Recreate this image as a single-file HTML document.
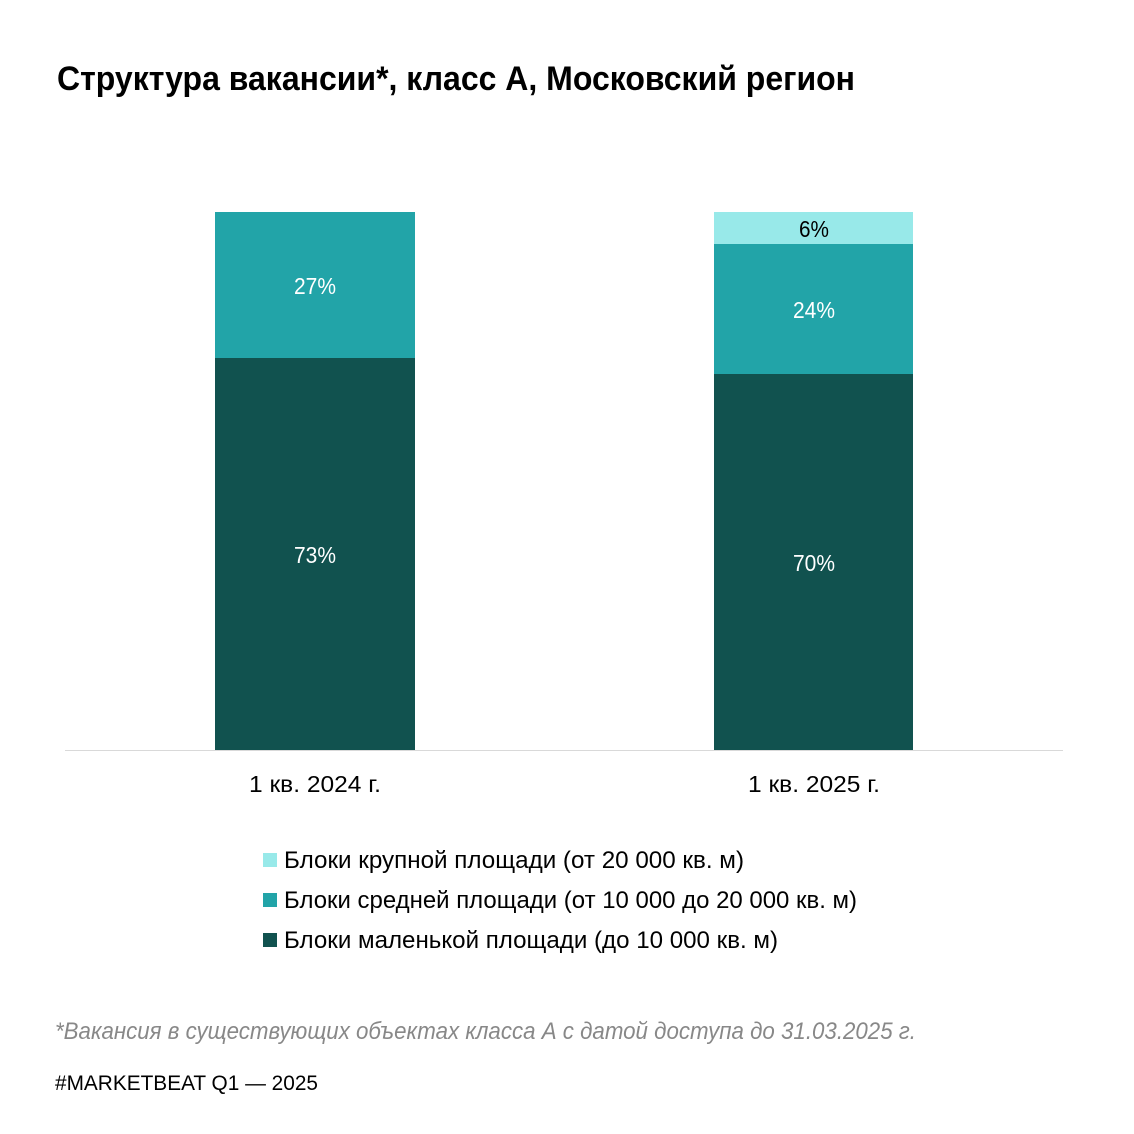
<!DOCTYPE html>
<html><head><meta charset="utf-8"><style>html,body{margin:0;padding:0;background:#fff}svg{display:block}</style></head>
<body>
<svg width="1134" height="1134" xmlns="http://www.w3.org/2000/svg" font-family="'Liberation Sans Narrow','Liberation Sans',sans-serif">
<rect width="1134" height="1134" fill="#fff"/>
<text x="57" y="90" font-size="34" font-weight="bold" fill="#000" textLength="798" lengthAdjust="spacingAndGlyphs">Структура вакансии*, класс А, Московский регион</text>
<rect x="215" y="212" width="200" height="146" fill="#22a4a8"/>
<rect x="215" y="358" width="200" height="392" fill="#11524f"/>
<rect x="714" y="212" width="199" height="32" fill="#98e9e9"/>
<rect x="714" y="244" width="199" height="130" fill="#22a4a8"/>
<rect x="714" y="374" width="199" height="376" fill="#11524f"/>
<line x1="65" y1="750.5" x2="1063" y2="750.5" stroke="#d9d9d9" stroke-width="1"/>
<g font-size="23" text-anchor="middle">
<text x="315" y="294" fill="#fff" textLength="42" lengthAdjust="spacingAndGlyphs">27%</text>
<text x="315" y="563" fill="#fff" textLength="42" lengthAdjust="spacingAndGlyphs">73%</text>
<text x="814" y="237" fill="#000" textLength="30" lengthAdjust="spacingAndGlyphs">6%</text>
<text x="814" y="318" fill="#fff" textLength="42" lengthAdjust="spacingAndGlyphs">24%</text>
<text x="814" y="571" fill="#fff" textLength="42" lengthAdjust="spacingAndGlyphs">70%</text>
<text x="315" y="792" fill="#000" textLength="132" lengthAdjust="spacingAndGlyphs">1 кв. 2024 г.</text>
<text x="814" y="792" fill="#000" textLength="132" lengthAdjust="spacingAndGlyphs">1 кв. 2025 г.</text>
</g>
<rect x="263" y="853" width="14" height="14" fill="#98e9e9"/>
<rect x="263" y="893" width="14" height="14" fill="#22a4a8"/>
<rect x="263" y="933" width="14" height="14" fill="#11524f"/>
<g font-size="24" fill="#000">
<text x="284" y="868" textLength="460" lengthAdjust="spacingAndGlyphs">Блоки крупной площади (от 20 000 кв. м)</text>
<text x="284" y="908" textLength="573" lengthAdjust="spacingAndGlyphs">Блоки средней площади (от 10 000 до 20 000 кв. м)</text>
<text x="284" y="948" textLength="494" lengthAdjust="spacingAndGlyphs">Блоки маленькой площади (до 10 000 кв. м)</text>
</g>
<text x="55" y="1039" font-size="24" font-style="italic" fill="#888" textLength="861" lengthAdjust="spacingAndGlyphs">*Вакансия в существующих объектах класса А с датой доступа до 31.03.2025 г.</text>
<text x="55" y="1090" font-size="21" fill="#000" textLength="263" lengthAdjust="spacingAndGlyphs">#MARKETBEAT Q1  —  2025</text>
</svg>
</body></html>
